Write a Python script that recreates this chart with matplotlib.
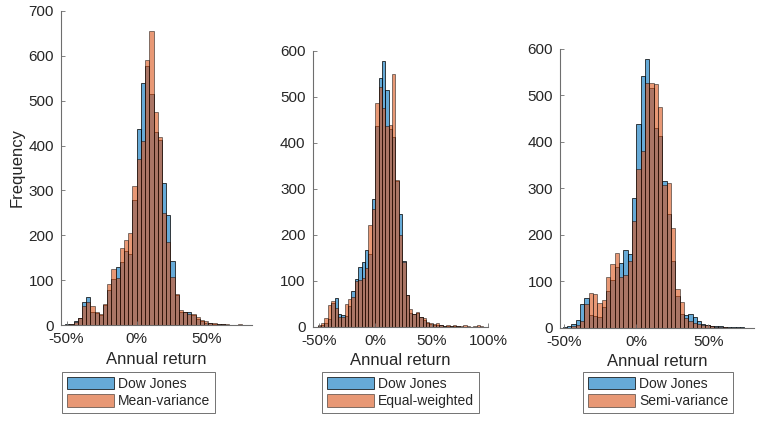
import numpy as np
import matplotlib.pyplot as plt

plt.rcParams['font.family'] = ['Liberation Sans', 'DejaVu Sans']

# =====================================================
# DATA (bin counts, bins of 3% width starting at -51%)
# =====================================================

BIN_WIDTH = 0.03
bin_lefts = np.arange(-17, 32) * BIN_WIDTH

dow_jones = [2, 3, 9, 16, 51, 63, 28, 26, 23, 45, 78, 103, 130, 140, 166, 158, 278,
             437, 540, 578, 515, 430, 412, 316, 245, 143, 68, 30, 28, 30, 22, 14, 8,
             5, 4, 3, 3, 2, 1, 1, 1, 1, 0, 0, 0, 0, 0, 0, 0]

mean_variance = [0, 2, 7, 15, 42, 52, 42, 28, 24, 46, 92, 124, 105, 172, 190, 206, 310,
                 370, 410, 590, 655, 475, 418, 250, 185, 108, 70, 33, 30, 25, 24, 18, 12,
                 8, 5, 4, 3, 2, 2, 1, 1, 2, 1, 0, 0, 0, 0, 0, 0]

equal_weighted = [3, 7, 18, 48, 55, 40, 20, 22, 50, 60, 65, 100, 102, 106, 128, 220, 255,
                  485, 520, 475, 437, 438, 548, 318, 200, 140, 68, 38, 28, 33, 20, 18, 10,
                  8, 6, 8, 3, 2, 4, 1, 3, 2, 1, 3, 1, 0, 1, 3, 1]

semi_variance = [0, 0, 3, 5, 15, 50, 74, 72, 53, 60, 108, 138, 160, 110, 113, 143, 230,
                 342, 380, 525, 527, 523, 475, 307, 310, 214, 84, 55, 20, 15, 10, 8, 5,
                 5, 3, 2, 1, 1, 0, 0, 0, 0, 0, 0, 0, 0, 0, 0, 0]

panels = [
    ("Mean-variance", mean_variance, [0.0796, 0.228, 0.249, 0.746], (-0.54, 0.82), 700,
     [-0.5, 0, 0.5], (0.181, 0.068)),
    ("Equal-weighted", equal_weighted, [0.408, 0.224, 0.229, 0.656], (-0.555, 1.0), 600,
     [-0.5, 0, 0.5, 1.0], (0.523, 0.068)),
    ("Semi-variance", semi_variance, [0.731, 0.2216, 0.253, 0.663], (-0.53, 0.815), 600,
     [-0.5, 0, 0.5], (0.859, 0.068)),
]

BLUE = (0.0, 0.447, 0.741, 0.6)
ORANGE = (0.85, 0.325, 0.098, 0.6)
AXIS_GRAY = "#6e6e6e"
TEXT = "#262626"

fig = plt.figure(figsize=(7.66, 4.21), dpi=100)

for i, (name, counts, pos, xlim, ymax, xticks, leg_pos) in enumerate(panels):
    ax = fig.add_axes(pos)
    ax.bar(bin_lefts, dow_jones, width=BIN_WIDTH, align="edge",
           facecolor=BLUE, edgecolor=(0, 0, 0, 0.85), linewidth=0.6, label="Dow Jones")
    ax.bar(bin_lefts, counts, width=BIN_WIDTH, align="edge",
           facecolor=ORANGE, edgecolor=(0, 0, 0, 0.55), linewidth=0.6, label=name)

    ax.set_xlim(*xlim)
    ax.set_ylim(0, ymax)
    ax.set_yticks(np.arange(0, ymax + 1, 100))
    ax.set_xticks(xticks)
    ax.set_xticklabels([f"{int(round(t * 100))}%" for t in xticks])

    for s in ["top", "right"]:
        ax.spines[s].set_visible(False)
    for s in ["left", "bottom"]:
        ax.spines[s].set_color(AXIS_GRAY)
        ax.spines[s].set_linewidth(0.8)
    ax.tick_params(direction="in", length=3, width=0.6, color=AXIS_GRAY,
                   labelsize=11, labelcolor=TEXT, pad=5)

    ax.set_xlabel("Annual return", fontsize=12, color=TEXT, labelpad=4)
    if i == 0:
        ax.set_ylabel("Frequency", fontsize=12, color=TEXT, labelpad=3)

    leg = fig.legend(*ax.get_legend_handles_labels(), loc="center",
                     bbox_to_anchor=leg_pos, bbox_transform=fig.transFigure,
                     fontsize=10, frameon=True, fancybox=False, handlelength=3.4,
                     handleheight=1.0, handletextpad=0.3, borderpad=0.35,
                     labelspacing=0.25, borderaxespad=0)
    leg.get_frame().set_edgecolor("#333333")
    leg.get_frame().set_linewidth(0.6)
    for t in leg.get_texts():
        t.set_color(TEXT)

fig.savefig("out.png", dpi=100)
